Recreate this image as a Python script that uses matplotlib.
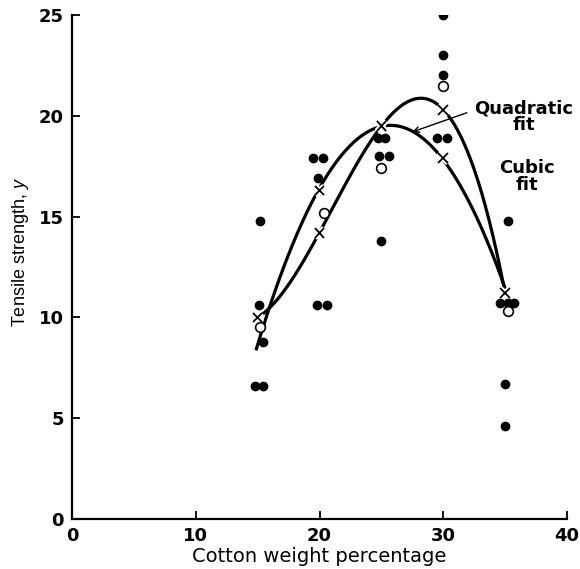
import numpy as np
import matplotlib
matplotlib.use("Agg")
import matplotlib.pyplot as plt
import matplotlib.patheffects as pe

plt.rcParams['font.family'] = ['DejaVu Sans']
plt.rcParams['mathtext.fontset'] = 'custom'
plt.rcParams['mathtext.it'] = 'Liberation Sans:italic'
plt.rcParams['mathtext.rm'] = 'Liberation Sans'

# cotton weight levels
levels = [15, 20, 25, 30, 35]

obs_x = [14.8, 15.4, 15.4, 15.1, 15.2,
         19.8, 20.6, 19.9, 19.5, 20.3,
         25.0, 24.8, 25.6, 24.7, 25.3,
         29.5, 30.3, 30.0, 30.0, 30.0,
         35.0, 35.0, 34.6, 35.2, 35.7, 35.2]
obs_y = [6.6, 6.6, 8.8, 10.6, 14.8,
         10.6, 10.6, 16.9, 17.9, 17.9,
         13.8, 18.0, 18.0, 18.9, 18.9,
         18.9, 18.9, 22.0, 23.0, 25.0,
         4.6, 6.7, 10.7, 10.7, 10.7, 14.8]

# level means (open circles)
mean_x = [15.2, 20.4, 25.0, 30.0, 35.2]
mean_y = [9.5, 15.2, 17.4, 21.5, 10.3]

# fitted values at each level (x marks)
quad_fit = [8.7, 16.3, 19.5, 17.9, 11.4]
cubic_fit = [10.0, 14.2, 19.5, 20.3, 11.2]

fig = plt.figure(figsize=(5.8, 5.69), dpi=100)
ax = fig.add_axes([72 / 580, 50 / 569, 495 / 580, 504 / 569])

quad_c = np.polyfit(levels, quad_fit, 2)
cubic_c = np.polyfit(levels, cubic_fit, 3)
xq = np.linspace(14.9, 35, 200)
xc = np.linspace(15.3, 35, 200)
ax.plot(xq, np.polyval(quad_c, xq), color='black', lw=2.3, zorder=2)
ax.plot(xc, np.polyval(cubic_c, xc), color='black', lw=2.3, zorder=2)

# x marks, with a small white gap cut into the curves
gap = [pe.Stroke(linewidth=4, foreground='white'), pe.Normal()]
ax.plot(levels[1:4], quad_fit[1:4], 'x', color='black', ms=7, mew=1.3,
        zorder=3, path_effects=gap)
ax.plot(levels, cubic_fit, 'x', color='black', ms=7, mew=1.3, zorder=3,
        path_effects=gap)

ax.plot(obs_x, obs_y, 'o', color='black', ms=6, zorder=4)
ax.plot(mean_x, mean_y, 'o', mfc='white', mec='black', ms=7, mew=1.2, zorder=4)

ax.text(36.5, 19.95, "Quadratic\nfit", ha='center', va='center',
        fontsize=13, fontweight='bold', linespacing=0.95)
ax.text(36.8, 17.0, "Cubic\nfit", ha='center', va='center',
        fontsize=13, fontweight='bold', linespacing=0.95)
ax.annotate("", xy=(27.5, 19.2), xytext=(31.9, 20.15),
            arrowprops=dict(arrowstyle='->', color='black', lw=1.0,
                            shrinkA=0, shrinkB=0))

ax.set_xlim(0, 40)
ax.set_ylim(0, 25)
ax.set_xticks([0, 10, 20, 30, 40])
ax.set_yticks([0, 5, 10, 15, 20, 25])
ax.spines['top'].set_visible(False)
ax.spines['right'].set_visible(False)
for s in ['left', 'bottom']:
    ax.spines[s].set_linewidth(1.6)
ax.tick_params(direction='in', length=6, width=1.3, labelsize=13, pad=6)
for lab in ax.get_xticklabels() + ax.get_yticklabels():
    lab.set_fontweight('bold')

ax.set_xlabel("Cotton weight percentage", fontsize=14, labelpad=1)
ax.set_ylabel("Tensile strength, $y$", fontsize=13, family='Liberation Sans')
ax.yaxis.set_label_coords(-0.083, 0.53)

fig.savefig("out.png", dpi=100)
